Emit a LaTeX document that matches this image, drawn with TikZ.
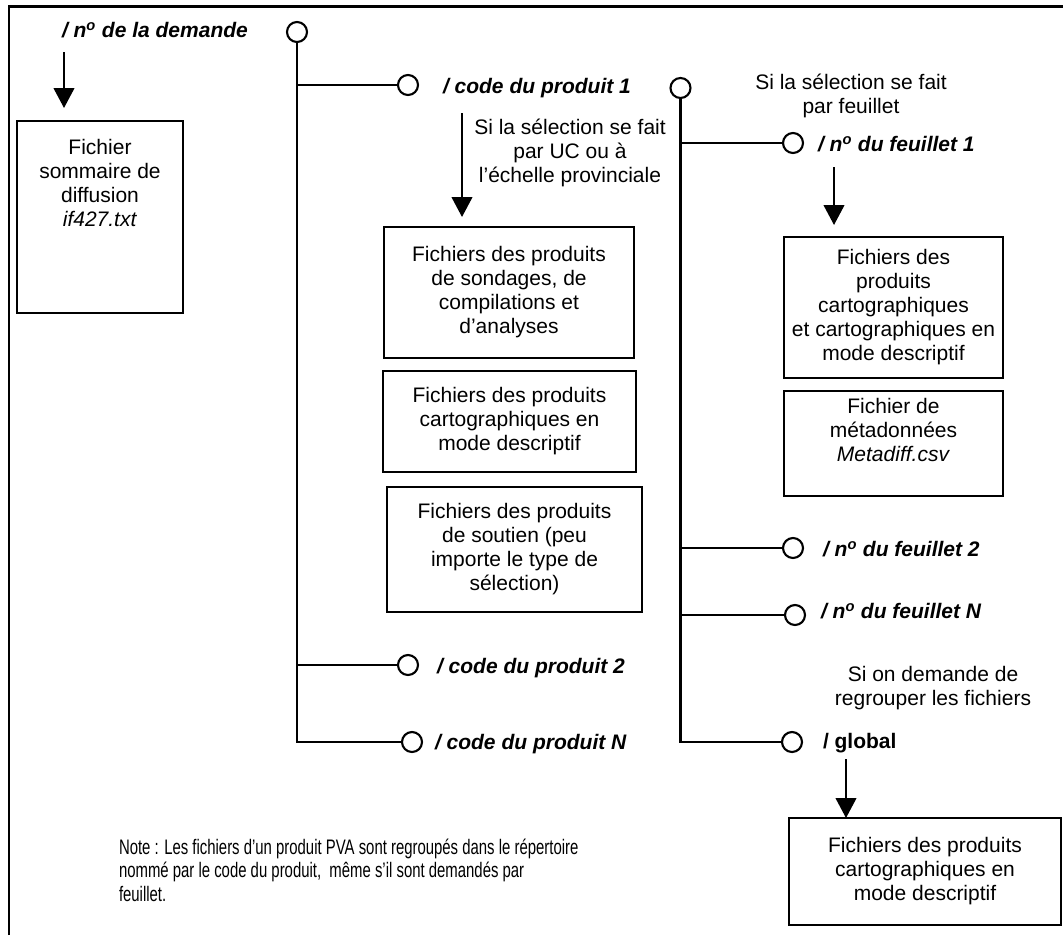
\documentclass[tikz,border=0pt]{standalone}
\usepackage{fontspec}
\setmainfont{Liberation Sans}
\newfontfamily\notefont[FakeStretch=0.71]{Liberation Sans}
\usetikzlibrary{arrows.meta}

\begin{document}
\begin{tikzpicture}[x=0.75pt,y=-0.75pt,
  every node/.style={inner sep=0pt, outer sep=0pt},
  txt/.style={font=\fontsize{15.75}{18}\selectfont, align=center},
  lbl/.style={font=\fontsize{15.75}{18}\selectfont\bfseries\itshape, anchor=base west},
  box/.style={draw, line width=1.6pt, txt},
  dot/.style={circle, draw, line width=1.6pt, minimum size=15pt, fill=white},
  link/.style={line width=1.6pt},
  arr/.style={line width=1.6pt, -{Triangle[width=15.5pt,length=15pt]}},
]
\useasboundingbox (0,0) rectangle (1063,935);

% outer frame
\draw[link] (9,935) -- (9,6.5) -- (1063,6.5);

% directory nodes
\node[dot] (c0) at (297,32) {};
\node[dot] (c1) at (408,85) {};
\node[dot] (c2) at (408,665) {};
\node[dot] (cN) at (412,742) {};
\node[dot] (d0) at (680.5,88) {};
\node[dot] (f1) at (793,143) {};
\node[dot] (f2) at (793,548) {};
\node[dot] (fN) at (795,615) {};
\node[dot] (gl) at (792,742) {};

% tree of the request
\draw[link] (c0) -- (c0 |- cN) -- (cN);
\draw[link] (c0 |- c1) -- (c1);
\draw[link] (c0 |- c2) -- (c2);

% tree of product 1
\draw[link] (d0) -- (d0 |- gl) -- (gl);
\draw[link] (d0 |- f1) -- (f1);
\draw[link] (d0 |- f2) -- (f2);
\draw[link] (d0 |- fN) -- (fN);

% directory names
\node[lbl] (dem) at (62,37) {/ n\textsuperscript{o} de la demande};
\node[lbl] (p1) at (443,93) {/ code du produit 1};
\node[lbl] (p2) at (437,673) {/ code du produit 2};
\node[lbl] (pN) at (435,749) {/ code du produit N};
\node[lbl] (l1) at (818,151) {/ n\textsuperscript{o} du feuillet 1};
\node[lbl] (l2) at (823,556) {/ n\textsuperscript{o} du feuillet 2};
\node[lbl] (lN) at (821,618) {/ n\textsuperscript{o} du feuillet N};
\node[lbl, font=\fontsize{15.75}{18}\selectfont\bfseries] (lg) at (823,748) {/ global};

% conditions
\node[txt] (s1) at (570,153) {Si la sélection se fait\\par UC ou à\\l’échelle provinciale};
\node[txt] (s2) at (851,96) {Si la sélection se fait\\par feuillet};
\node[txt] (s3) at (933,688) {Si on demande de\\regrouper les fichiers};

% file boxes
\node[box, minimum width=124.5pt, minimum height=144pt] (sum) at (100,217) {};
\node[txt, anchor=north] (sumtxt) at (100,139) {Fichier\\sommaire de\\diffusion\\\textit{if427.txt}};

\node[box, minimum width=187.5pt, minimum height=98.25pt] (b1) at (509,292.5)
  {Fichiers des produits\\de sondages, de\\compilations et\\d’analyses};
\node[box, minimum width=189.75pt, minimum height=75.75pt] (b2) at (509.5,421.5)
  {Fichiers des produits\\cartographiques en\\mode descriptif};
\node[box, minimum width=191.25pt, minimum height=93.75pt] (b3) at (514.5,549.5)
  {Fichiers des produits\\de soutien (peu\\importe le type de\\sélection)};
\node[box, minimum width=164.25pt, minimum height=105.75pt] (ff) at (893.5,307.5)
  {Fichiers des\\produits\\cartographiques\\et cartographiques en\\mode descriptif};
\node[box, minimum width=164.25pt, minimum height=78.75pt] (meta) at (893.5,443.5)
  {Fichier de\\métadonnées\\\textit{Metadiff.csv}\\[3pt]};
\node[box, minimum width=204pt, minimum height=80.25pt] (gb) at (925,871.5)
  {Fichiers des produits\\cartographiques en\\mode descriptif};

% arrows
\coordinate (a0) at (64,52);
\draw[arr, shorten >=9.75pt] (a0) -- (a0 |- sum.north);
\coordinate (a1) at (462,113);
\draw[arr, shorten >=7.5pt] (a1) -- (a1 |- b1.north);
\coordinate (a2) at (834,167);
\draw[arr, shorten >=9pt] (a2) -- (a2 |- ff.north);
\coordinate (a3) at (846,759);
\draw[arr] (a3) -- (a3 |- gb.north);

% note
\node[anchor=north west, align=left, font=\notefont\fontsize{15.75}{17.6}\selectfont] (note) at (119,839)
  {Note : Les fichiers d’un produit PVA sont regroupés dans le répertoire\\nommé par le code du produit,~ même s’il sont demandés par\\feuillet.};
\end{tikzpicture}
\end{document}
